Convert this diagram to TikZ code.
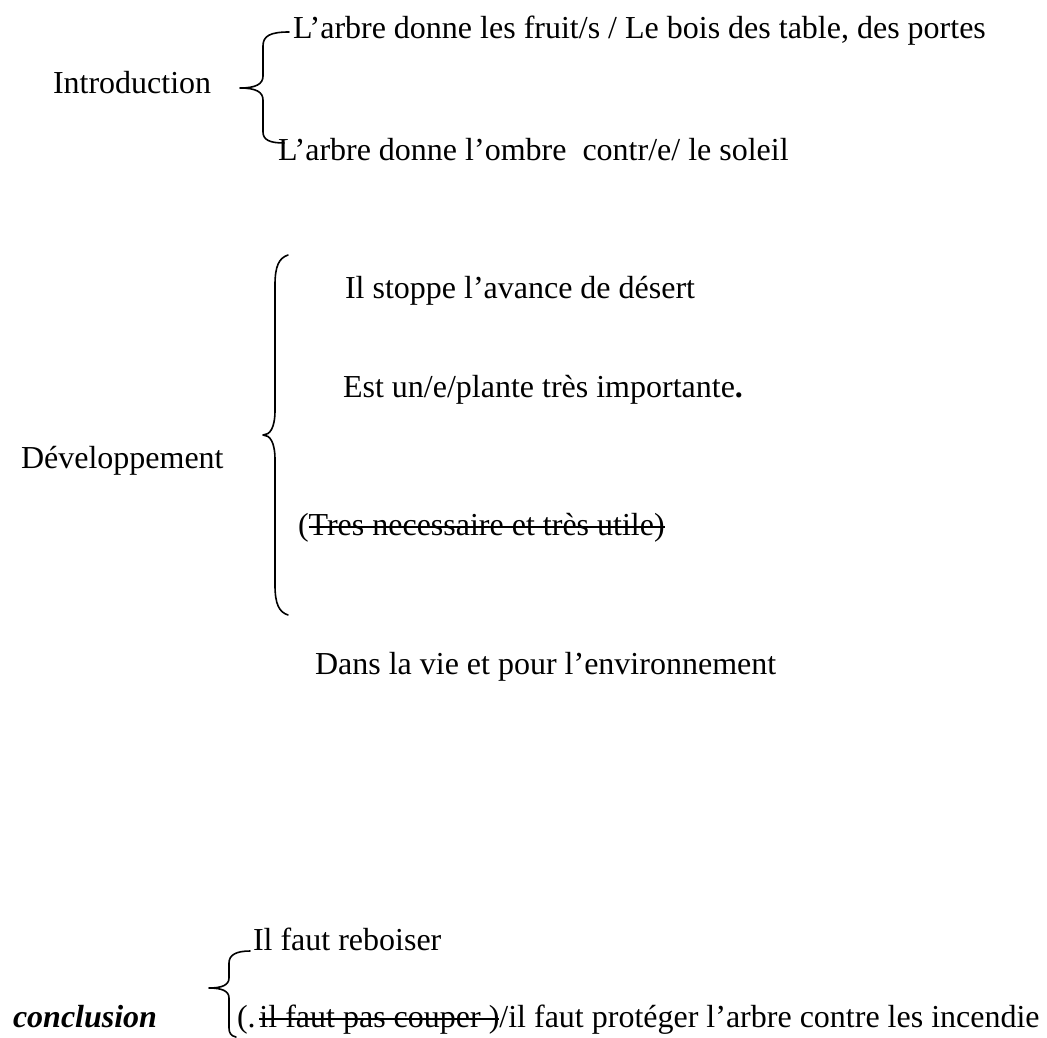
\documentclass[tikz,border=0pt]{standalone}
\usepackage{fontspec}
\setmainfont{Liberation Serif}
\begin{document}
\begin{tikzpicture}[x=1pt,y=-1pt,
  txt/.style={anchor=base west,inner sep=0pt,outer sep=0pt,font=\fontsize{32}{38}\selectfont},
  bracestroke/.style={line width=1.6pt,line cap=round,line join=round},
  strike/.style={line width=1.6pt}]
\useasboundingbox (0,0) rectangle (1047,1037);
\fill[white] (0,0) rectangle (1047,1037);
% Introduction
\node[txt] (intro) at (53,93) {Introduction};
\node[txt] (i1) at (293,38) {L’arbre donne les fruit/s / Le bois des table, des portes};
\node[txt] (i2) at (278,160) {L’arbre donne l’ombre ~contr/e/ le soleil};
\draw[bracestroke] (289,32) .. controls (270,32) and (263,36) .. (263,46) -- (263,76)
  .. controls (263,84) and (256,88) .. (240,88)
  .. controls (256,88) and (263,92) .. (263,100) -- (263,132)
  .. controls (263,140) and (270,143) .. (284,143);
% Developpement
\node[txt] (dev) at (21,468) {Développement};
\node[txt] (d1) at (345,298) {Il stoppe l’avance de désert};
\node[txt] (d2) at (343,397) {Est un/e/plante très importante\textbf{.}};
\node[txt] (d3a) at (298,535) {(};
\node[txt] (d3b) at (d3a.base east) {Tres necessaire et très utile)};
\draw[strike] ([yshift=8pt]d3b.base west) -- ([yshift=8pt]d3b.base east);
\node[txt] (d4) at (315,674) {Dans la vie et pour l’environnement};
\draw[bracestroke] (288,255) .. controls (279,258) and (275,266) .. (275,285) -- (275,410)
  .. controls (275,428) and (270,435) .. (263,435)
  .. controls (270,435) and (275,442) .. (275,460) -- (275,585)
  .. controls (275,604) and (279,612) .. (288,615);
% Conclusion
\node[txt,font=\fontsize{32}{38}\selectfont\bfseries\itshape] (concl) at (13,1027) {conclusion};
\node[txt] (c1) at (253,950) {Il faut reboiser};
\node[txt] (c2a) at (237,1027) {(.\kern 0.12em};
\node[txt] (c2b) at (c2a.base east) {il faut pas couper )};
\node[txt] (c2c) at (c2b.base east) {/il faut protéger l’arbre contre les incendie};
\draw[strike] ([yshift=8pt]c2b.base west) -- ([yshift=8pt]c2b.base east);
\draw[bracestroke] (250,951) .. controls (236,951) and (229,955) .. (229,963) -- (229,978)
  .. controls (229,985) and (222,988) .. (209,988)
  .. controls (222,988) and (229,991) .. (229,998) -- (229,1028)
  .. controls (229,1033) and (231,1036) .. (236,1037);
\end{tikzpicture}
\end{document}
